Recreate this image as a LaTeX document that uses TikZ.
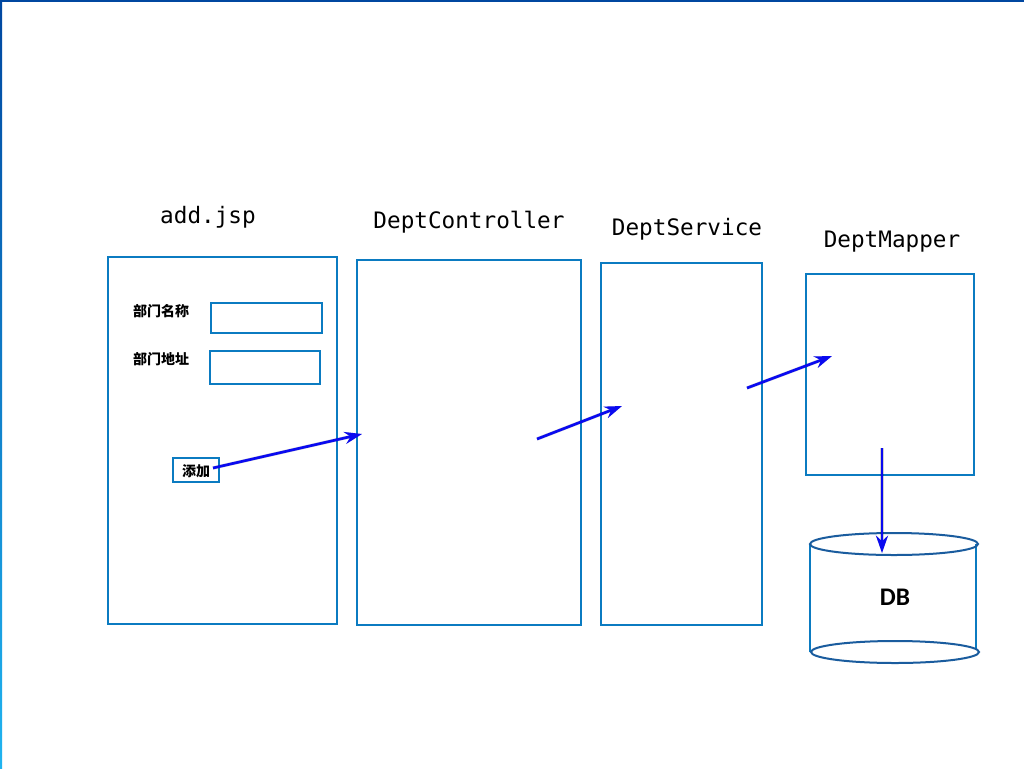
\documentclass[tikz,border=0pt]{standalone}
\usepackage{fontspec}
\setmonofont{DejaVu Sans Mono}
\newfontfamily\cjk{Noto Sans CJK SC}
\newfontfamily\dbfont{Carlito}
\usetikzlibrary{arrows.meta}
\definecolor{boxblue}{HTML}{0B7BC1}
\definecolor{dbedge}{HTML}{1A5C9E}
\definecolor{arrblue}{HTML}{0A0AF0}
\definecolor{edgetop}{HTML}{0047A0}
\definecolor{edgebot}{HTML}{20B4F0}
\begin{document}
\begin{tikzpicture}[x=0.75pt,y=-0.75pt,
  box/.style={draw=boxblue,line width=1.5pt,rectangle,inner sep=0pt,anchor=north west},
  title/.style={font=\ttfamily\fontsize{17}{20}\selectfont,inner sep=0pt},
  cn/.style={font=\cjk\bfseries\fontsize{10.5}{12}\selectfont,inner sep=0pt},
  flow/.style={draw=arrblue,line width=2pt,-{Stealth[length=13pt,width=9pt]}},
  shadowline/.style={draw=black,opacity=0.18,line width=2.5pt,-{Stealth[length=13pt,width=9pt]}}]
\useasboundingbox (0,0) rectangle (1024,768);
\fill[white] (0,0) rectangle (1024,768);
% screen edge
\shade[top color=edgetop,bottom color=edgebot] (0,0) rectangle (2,768);
\fill[edgetop] (0,0) rectangle (1024,1.5);
% titles
\node[title] (tjsp) at (208,217) {add.jsp};
\node[title] (tctrl) at (469,222) {DeptController};
\node[title] (tsvc) at (687,229) {DeptService};
\node[title] (tmap) at (892,242) {DeptMapper};
% boxes
\node[box,minimum width=171.75pt,minimum height=275.25pt] (jsp) at (106.5,255.5) {};
\node[box,minimum width=83.25pt,minimum height=22.5pt] (in1) at (209.5,301.5) {};
\node[box,minimum width=82.5pt,minimum height=24.75pt] (in2) at (208.5,349.5) {};
\node[box,minimum width=34.5pt,minimum height=18pt] (btn) at (171.5,456.5) {};
\node[box,minimum width=168pt,minimum height=273.75pt] (ctrl) at (355.5,258.5) {};
\node[box,minimum width=120.75pt,minimum height=271.5pt] (svc) at (599.5,261.5) {};
\node[box,minimum width=126pt,minimum height=150.75pt] (map) at (804.5,272.5) {};
% labels
\node[cn] (l1) at (161,311) {部门名称};
\node[cn] (l2) at (161,359) {部门地址};
\node[cn] (l3) at (196,471) {添加};
% DB cylinder
\draw[boxblue,line width=1.5pt] (810,544) -- (810,652);
\draw[boxblue,line width=1.5pt] (976,544) -- (976,652);
\fill[white] (895,652) ellipse [x radius=84,y radius=11];
\draw[dbedge,line width=1.5pt] (894,544) ellipse [x radius=84,y radius=11];
\draw[dbedge,line width=1.5pt] (895,652) ellipse [x radius=84,y radius=11];
\node[font=\dbfont\bfseries\fontsize{19}{21}\selectfont,inner sep=0pt] (db) at (895,597) {DB};
% connector points
\coordinate (a1s) at (213,468);
\coordinate (a1e) at (362,434);
\coordinate (a2s) at (537,439);
\coordinate (a2e) at (622,406);
\coordinate (a3s) at (747,388);
\coordinate (a3e) at (832,356);
\coordinate (a4s) at (882,448);
\coordinate (a4e) at (882,553);
% shadows
\begin{scope}[shift={(3,3)}]
\draw[shadowline] (a1s) -- (a1e);
\draw[shadowline] (a2s) -- (a2e);
\draw[shadowline] (a3s) -- (a3e);
\draw[shadowline] (a4s) -- (a4e);
\end{scope}
% arrows
\draw[flow] (a1s) -- (a1e);
\draw[flow] (a2s) -- (a2e);
\draw[flow] (a3s) -- (a3e);
\draw[flow] (a4s) -- (a4e);
\end{tikzpicture}
\end{document}
